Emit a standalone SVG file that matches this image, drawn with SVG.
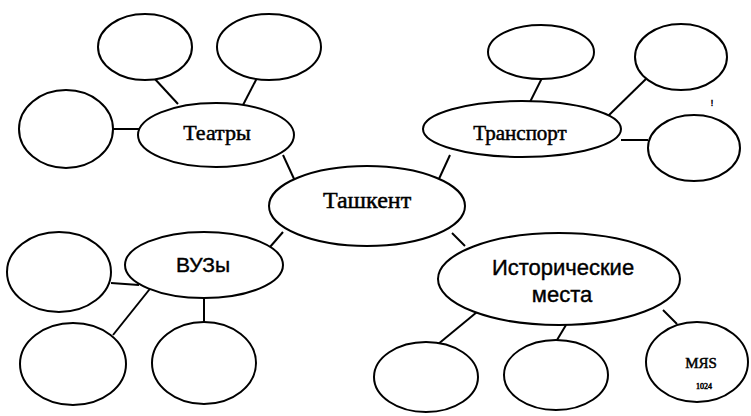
<svg xmlns="http://www.w3.org/2000/svg" width="751" height="416" viewBox="0 0 751 416">
<style>
.n{fill:#fff;stroke:#000;stroke-width:2}
.c line{stroke:#000;stroke-width:2}
.s{font-family:"Liberation Serif","DejaVu Serif",serif;fill:#000;text-anchor:middle;stroke:#000;stroke-width:0.5}
.a{font-family:"Liberation Sans","DejaVu Sans",sans-serif;fill:#000;text-anchor:middle;stroke:#000;stroke-width:0.4}
</style>
<rect width="751" height="416" fill="#fff"/>
<g class="c" id="connectors">
<line x1="283" y1="155" x2="295" y2="181"/>
<line x1="450" y1="155" x2="438" y2="181"/>
<line x1="283" y1="232" x2="270" y2="247"/>
<line x1="452" y1="233" x2="465" y2="246"/>
<line x1="154" y1="78" x2="178" y2="104"/>
<line x1="257" y1="78" x2="243" y2="105"/>
<line x1="113" y1="129" x2="139" y2="129"/>
<line x1="542" y1="78" x2="530" y2="102"/>
<line x1="648" y1="77" x2="607" y2="117"/>
<line x1="621" y1="140" x2="648" y2="140"/>
<line x1="111" y1="283" x2="139" y2="285"/>
<line x1="113" y1="335" x2="153" y2="285"/>
<line x1="204" y1="298" x2="204" y2="323"/>
<line x1="477" y1="312" x2="437" y2="345"/>
<line x1="566" y1="325" x2="557" y2="340"/>
<line x1="663" y1="310" x2="677" y2="324"/>
</g>
<g id="tashkent"><ellipse class="n" cx="367" cy="206" rx="98" ry="40"/><text class="s" x="367" y="208" font-size="24">Ташкент</text></g>
<g id="teatry"><ellipse class="n" cx="216" cy="135" rx="78" ry="32"/><text class="s" x="217" y="140" font-size="22">Театры</text></g>
<g id="transport"><ellipse class="n" cx="522" cy="129" rx="99" ry="28"/><text class="s" x="520" y="140" font-size="21">Транспорт</text></g>
<g id="vuzy"><ellipse class="n" cx="204" cy="265" rx="79" ry="33"/><text class="a" x="203" y="272" font-size="21">ВУЗы</text></g>
<g id="istoricheskie"><ellipse class="n" cx="559" cy="279" rx="121" ry="46"/><text class="a" x="563" y="275" font-size="22">Исторические</text><text class="a" x="562" y="302" font-size="22">места</text></g>
<g id="t1"><ellipse class="n" cx="145" cy="47" rx="47" ry="33"/></g>
<g id="t2"><ellipse class="n" cx="269" cy="47" rx="52" ry="33"/></g>
<g id="t3"><ellipse class="n" cx="66" cy="129" rx="47" ry="39"/></g>
<g id="tr1"><ellipse class="n" cx="541" cy="52" rx="53" ry="27"/></g>
<g id="tr2"><ellipse class="n" cx="681" cy="57" rx="46" ry="33"/></g>
<g id="tr3"><ellipse class="n" cx="694" cy="148" rx="46" ry="33"/></g>
<g id="v1"><ellipse class="n" cx="59" cy="272" rx="52" ry="40"/></g>
<g id="v2"><ellipse class="n" cx="73" cy="364" rx="53" ry="41"/></g>
<g id="v3"><ellipse class="n" cx="204" cy="363" rx="52" ry="41"/></g>
<g id="i1"><ellipse class="n" cx="426" cy="377" rx="52" ry="35"/></g>
<g id="i2"><ellipse class="n" cx="556" cy="375" rx="52" ry="35"/></g>
<g id="i3"><ellipse class="n" cx="697" cy="362" rx="51" ry="40"/><text class="s" x="701" y="368" font-size="15" fill="#222" stroke="none">MЯS</text><text class="s" x="704" y="389" font-size="8" fill="#666" stroke="none">1024</text></g>
<text class="s" x="712" y="106" font-size="9" stroke="none">!</text>
</svg>
